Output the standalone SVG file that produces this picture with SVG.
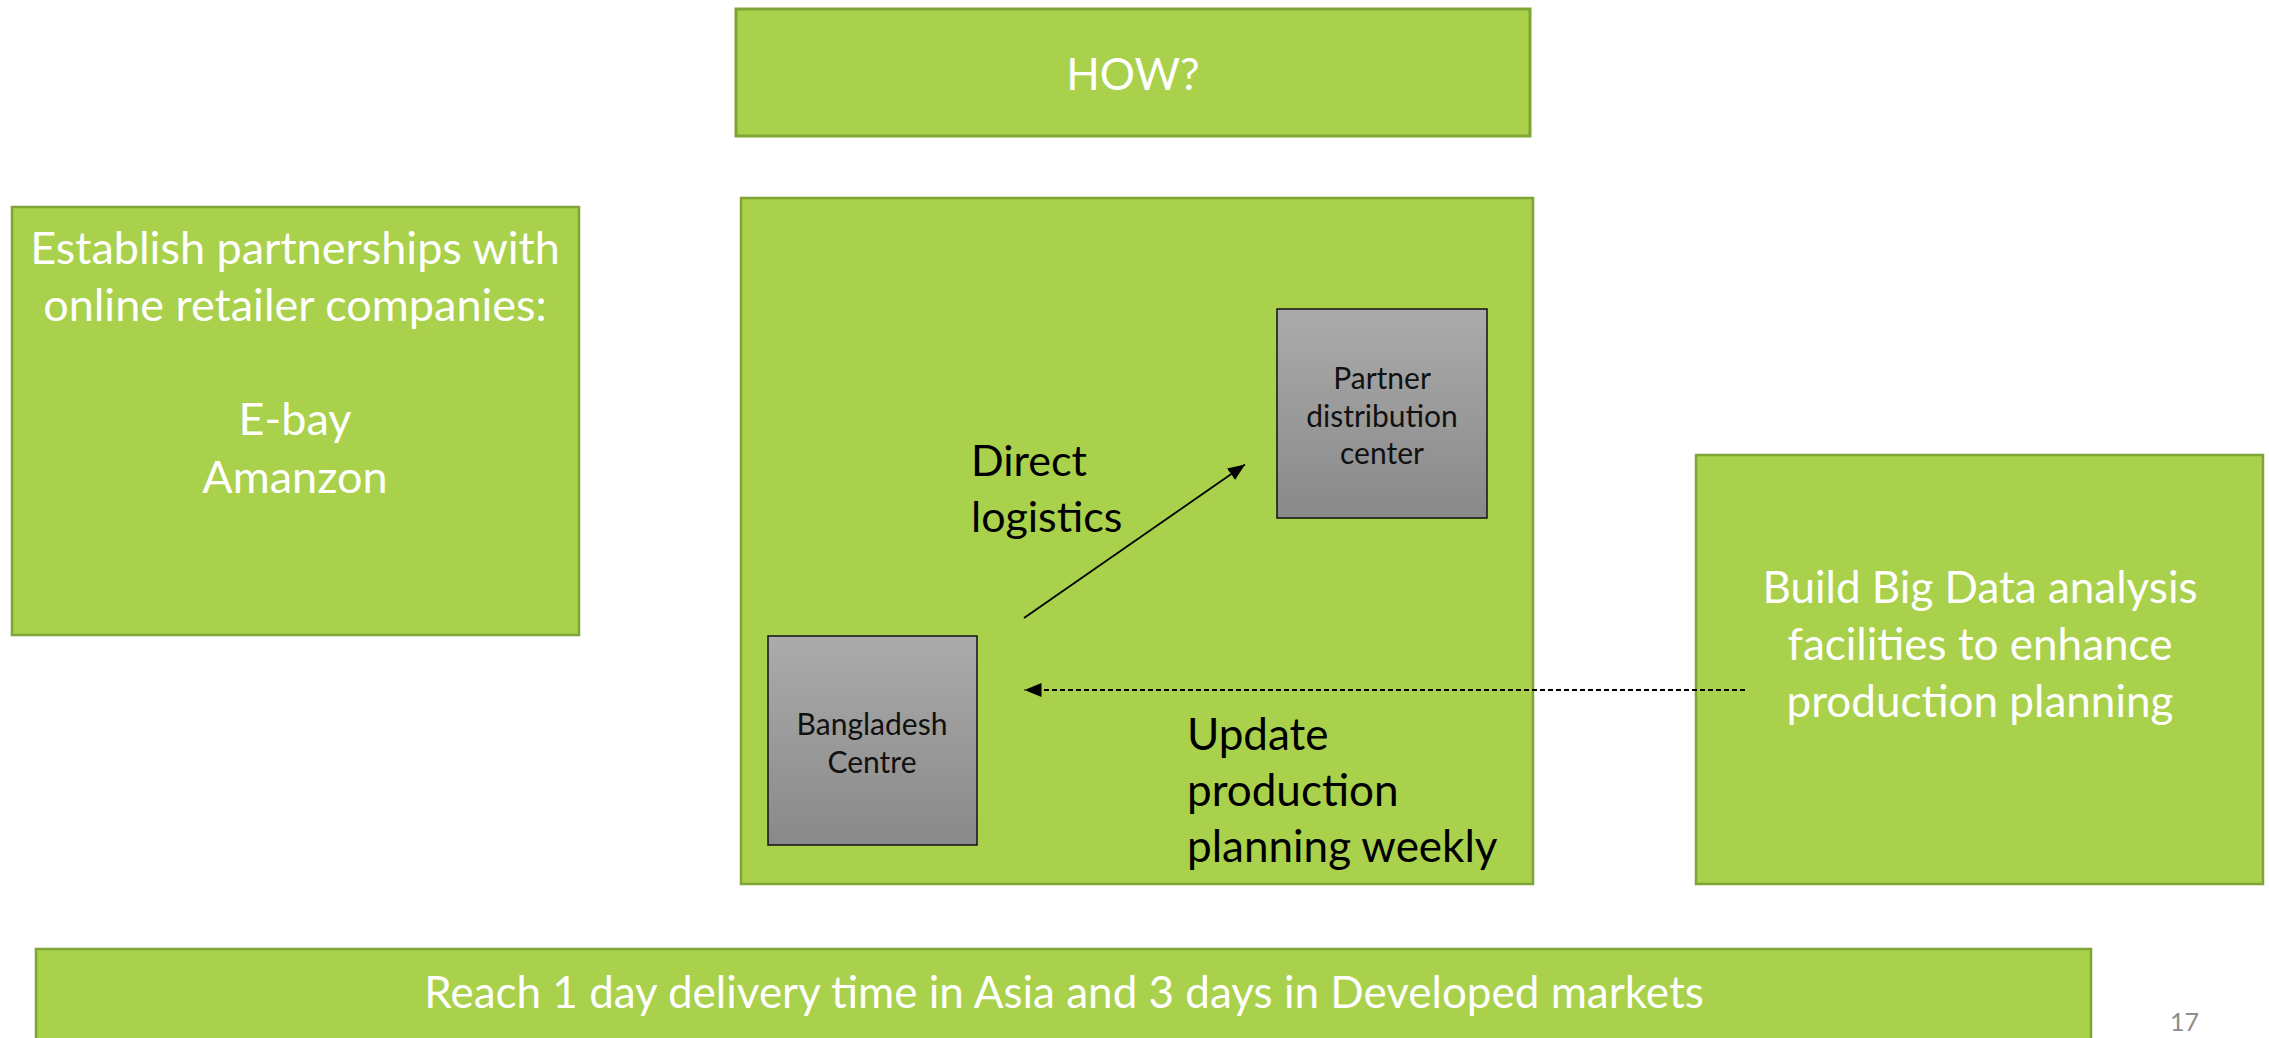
<svg xmlns="http://www.w3.org/2000/svg" width="2269" height="1038" viewBox="0 0 2269 1038">
<style>
.g{fill:#A9D14B;stroke:#7FA535;stroke-width:2.5}
.gb{fill:url(#gray);stroke:#111;stroke-width:1.5}
.w{fill:#fff;font-family:Lato,"Open Sans",sans-serif;font-size:44px;text-anchor:middle}
.k{fill:#000;font-family:Lato,"Open Sans",sans-serif;font-size:43px}
.s{fill:#111;font-family:Lato,"Open Sans",sans-serif;font-size:30px;text-anchor:middle}
.c{stroke:#000;stroke-width:1.8;fill:none}
</style>
<defs>
<linearGradient id="gray" x1="0" y1="0" x2="0" y2="1">
<stop offset="0" stop-color="#ABABAB"/>
<stop offset="1" stop-color="#898989"/>
</linearGradient>
<marker id="ah" markerUnits="userSpaceOnUse" markerWidth="18" markerHeight="14" refX="17" refY="7" orient="auto">
<path d="M0,0 L17,7 L0,14 z" fill="#000"/>
</marker>
</defs>
<rect width="2269" height="1038" fill="#fff"/>
<g id="how">
<rect class="g" x="736" y="9" width="794" height="127" style="stroke-width:3"/>
<text class="w" x="1133" y="90">HOW?</text>
</g>
<g id="partnerships">
<rect class="g" x="12" y="207" width="567" height="428"/>
<text class="w" x="295" y="264" style="font-size:45px">Establish partnerships with</text>
<text class="w" x="295" y="321" style="font-size:45px">online retailer companies:</text>
<text class="w" x="295" y="435" style="font-size:45px">E-bay</text>
<text class="w" x="295" y="493" style="font-size:45px">Amanzon</text>
</g>
<g id="logistics">
<rect class="g" x="741" y="198" width="792" height="686"/>
</g>
<g id="partner">
<rect class="gb" x="1277" y="309" width="210" height="209"/>
<text class="s" x="1382" y="389">Partner</text>
<text class="s" x="1382" y="427">distribution</text>
<text class="s" x="1382" y="464">center</text>
</g>
<g id="bangladesh">
<rect class="gb" x="768" y="636" width="209" height="209"/>
<text class="s" x="872" y="735">Bangladesh</text>
<text class="s" x="872" y="773">Centre</text>
</g>
<g id="labels">
<text class="k" x="971" y="476">Direct</text>
<text class="k" x="971" y="532">logistics</text>
<text class="k" x="1187" y="750" style="font-size:44px">Update</text>
<text class="k" x="1187" y="806" style="font-size:44px">production</text>
<text class="k" x="1187" y="862" style="font-size:44px">planning weekly</text>
</g>
<g id="bigdata">
<rect class="g" x="1696" y="455" width="567" height="429"/>
<text class="w" x="1980" y="603">Build Big Data analysis</text>
<text class="w" x="1980" y="660">facilities to enhance</text>
<text class="w" x="1980" y="717">production planning</text>
</g>
<g id="goal">
<rect class="g" x="36" y="949" width="2055" height="100"/>
<text class="w" x="1064" y="1008">Reach 1 day delivery time in Asia and 3 days in Developed markets</text>
</g>
<g id="connectors">
<line class="c" x1="1024" y1="618" x2="1245" y2="464.5" marker-end="url(#ah)"/>
<line class="c" x1="1745" y1="690" x2="1024.5" y2="690" stroke-dasharray="5 3" marker-end="url(#ah)"/>
</g>
<text x="2170" y="1031" fill="#8C8C8C" font-family="Lato,'Open Sans',sans-serif" font-size="25">17</text>
</svg>
